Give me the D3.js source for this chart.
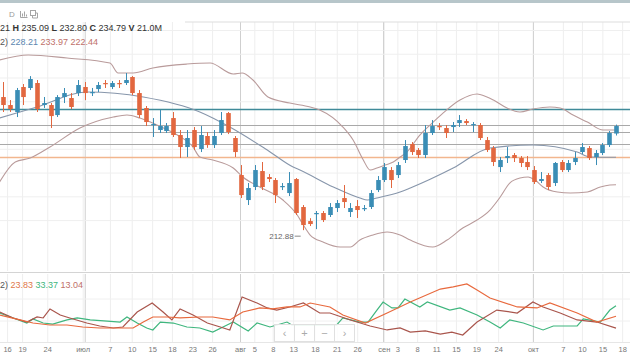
<!DOCTYPE html>
<html><head><meta charset="utf-8">
<script src="https://cdn.jsdelivr.net/npm/d3@7"></script>
<style>
body{margin:0;background:#fff}
svg{display:block;font-family:"Liberation Sans",Arial,sans-serif}
</style></head>
<body><svg id="c" width="630" height="355"></svg>
<script>
// ---------- DATA ----------
const openP  = [240.89,239.21,237.74,243.0,242.79,243.84,239.21,239.21,237.1,240.89,240.68,241.73,243.0,241.73,242.57,243.84,243.0,243.84,243.84,245.10,241.73,238.58,235.0,233.95,233.74,236.47,232.9,230.37,233.95,229.95,232.69,230.79,233.32,237.52,232.27,224.48,219.22,221.96,225.32,224.06,223.43,221.96,220.69,223.64,217.75,214.80,216.28,216.49,216.07,217.54,219.64,216.7,217.96,217.33,217.75,221.32,223.43,225.53,224.48,227.64,231.0,229.74,228.69,233.32,234.79,234.37,234.58,235.42,235.84,235.0,235.0,231.84,230.16,226.16,228.06,228.69,228.06,227.22,225.53,223.22,224.48,222.80,227.22,225.53,227.22,229.32,230.16,228.27,229.11,230.79,233.21];
const highP  = [244.05,240.26,242.8,243.63,245.3,244.47,240.9,239.63,241.3,242.79,241.73,244.47,244.05,242.8,244.05,244.47,244.26,244.47,245.94,245.3,242.36,239.0,236.47,238.16,235.42,237.74,233.95,233.95,234.58,234.79,233.5,233.95,237.74,237.74,232.69,226.58,222.8,226.58,227.22,224.69,223.85,222.8,225.11,223.85,218.17,215.4,216.91,216.91,218.59,219.22,222.38,218.59,219.22,218.17,221.32,224.27,227.01,226.16,227.22,231.84,231.42,230.16,235.0,236.05,235.42,235.0,235.63,237.10,236.26,235.63,235.42,232.48,230.58,228.27,230.37,229.11,228.48,228.48,226.37,225.11,224.9,227.22,227.64,227.64,229.32,231.21,230.58,229.74,231.21,233.74,235.09];
const lowP   = [237.74,237.74,236.68,239.21,242.36,237.74,238.6,234.37,236.7,239.63,238.37,241.1,240.26,241.1,241.94,242.79,242.57,242.79,243.42,241.31,236.47,234.79,232.48,233.32,233.32,232.48,228.06,228.27,229.74,229.32,230.2,230.16,232.9,233.1,228.27,219.64,218.17,221.32,221.32,223.01,218.59,221.32,220.06,216.07,212.88,213.75,213.1,214.59,215.65,216.7,217.54,215.65,215.44,216.9,217.33,220.9,223.01,221.75,223.85,227.01,228.69,228.06,228.06,232.9,233.95,232.27,233.53,234.58,235.0,233.53,231.84,229.32,226.37,225.11,227.01,227.22,226.16,225.53,222.59,222.8,221.32,222.17,225.11,225.11,226.58,228.9,227.64,226.58,228.69,230.37,232.80];
const closeP = [239.21,238.37,242.36,240.89,244.68,238.37,239.63,236.89,240.89,241.73,238.79,243.42,241.73,241.94,243.42,243.63,243.84,243.63,244.47,241.73,237.10,235.63,235.21,234.79,234.79,232.90,230.37,232.27,230.37,232.90,230.79,232.69,236.05,233.53,229.32,220.27,221.75,225.53,221.96,223.64,220.27,222.17,222.80,216.49,213.96,214.17,216.49,215.01,217.75,218.59,218.80,217.54,217.12,217.54,220.69,223.43,226.16,223.43,226.58,230.58,229.32,228.69,233.32,234.79,234.58,233.32,235.0,236.05,235.42,235.21,232.27,229.74,227.22,227.64,228.48,228.06,227.01,226.16,223.01,223.64,221.96,227.01,225.53,227.01,228.06,230.37,228.06,229.11,230.79,233.32,234.79];

// Bollinger bands, [candle index, price]
const bbUpper = [[-0.5,248.7],[3.7,249.73],[9.4,249.1],[15.7,248.04],[16.9,245.94],[19.1,245.94],[22.0,247.0],[27.0,247.83],[30.4,248.04],[33.8,245.73],[35.1,245.94],[36.7,244.47],[38.9,240.89],[42.1,239.63],[45.1,238.79],[46.5,238.16],[49.9,234.58],[51.4,231.84],[52.9,227.64],[53.9,225.53],[54.9,225.95],[56.1,226.58],[57.3,227.22],[58.3,228.27],[59.3,229.32],[61.2,232.9],[62.7,235.0],[64.6,237.52],[67.1,240.26],[69.6,241.52],[70.3,241.31],[72.0,240.26],[74.0,238.58],[75.9,237.74],[77.8,238.37],[80.3,238.79],[81.8,238.58],[83.7,237.1],[85.8,235.63],[88.1,233.95],[90,233.97]];
const bbMiddle = [[-0.5,236.47],[2.5,237.74],[5.0,238.79],[12.3,241.94],[20.6,240.89],[28.9,237.74],[33.3,234.58],[38.8,229.74],[42.6,226.16],[43.6,225.53],[48.5,221.96],[52.4,219.64],[53.5,219.22],[54.9,219.64],[58.3,220.9],[59.8,221.75],[66.1,225.95],[71.5,230.16],[77.8,230.79],[84.3,229.32],[86.2,228.27],[90,228.21]];
const bbLower = [[-0.5,223.01],[1.8,227.22],[4.0,228.06],[6.9,230.37],[11.3,234.37],[16.2,236.68],[18.2,237.1],[20.1,236.47],[22.6,235.0],[25.6,232.9],[27.9,230.37],[28.9,228.27],[30.8,227.64],[33.8,225.95],[35.2,224.06],[37.7,221.96],[41.1,219.22],[43.2,216.07],[44.1,213.96],[45.1,211.86],[47.0,210.38],[49.5,209.33],[51.0,209.33],[52.4,210.8],[54.3,211.86],[56.4,212.49],[58.3,211.86],[59.8,210.8],[63.1,209.33],[65.2,210.8],[67.5,213.33],[69.6,215.01],[71.5,217.12],[73.0,219.85],[74.4,222.8],[75.9,223.85],[77.1,224.06],[78.1,223.43],[79.3,221.96],[81.4,220.9],[83.3,220.69],[85.8,220.9],[87.7,221.96],[89.1,222.38],[90,222.44]];

// horizontal price levels
const levelPrices = [238.37, 235.0, 233.5, 231.0, 228.27];
const gridPrices = [215, 220, 225, 230, 235, 240, 245, 250, 255];

// DMI / ADX indicator, [candle index, value]
const adx = [[-0.5,25.0],[2.5,20.5],[4.4,17.7],[6.9,15.9],[9.4,15.9],[11.7,14.1],[14.2,13.2],[17.2,13.2],[19.1,13.2],[20.6,18.6],[22.0,23.2],[24.1,23.2],[26.0,22.3],[28.9,23.2],[30.8,23.2],[33.3,20.5],[35.2,27.7],[37.7,31.4],[39.6,30.5],[41.7,32.3],[43.6,32.3],[45.1,35.9],[48.0,32.3],[49.9,25.0],[53.2,17.7],[56.4,26.8],[59.8,36.8],[64.2,48.6],[66.1,50.5],[68.1,53.2],[69.6,47.7],[71.5,40.5],[75.5,32.3],[78.4,31.4],[80.3,35.9],[84.3,26.8],[87.2,18.6],[90,23.83]];
const plusDI = [[-0.5,26.8],[1.5,22.3],[3.5,17.7],[4.4,21.4],[5.9,17.7],[7.3,16.8],[9.4,20.5],[10.9,22.3],[12.8,20.5],[15.3,19.5],[17.2,18.6],[18.2,23.2],[19.7,17.7],[21.1,13.2],[22.0,11.4],[23.1,18.6],[25.0,17.7],[27.0,14.1],[28.9,13.2],[30.8,9.5],[32.9,15.9],[33.8,18.6],[36.0,10.5],[37.3,17.7],[39.2,14.1],[41.7,18.6],[42.4,15.9],[45.1,15.9],[49.0,15.9],[49.9,22.3],[52.4,18.6],[53.6,18.6],[54.9,29.5],[55.8,36.8],[57.1,31.4],[58.0,31.4],[59.0,39.5],[61.2,32.3],[62.3,36.8],[65.6,29.5],[67.1,31.4],[69.6,25.0],[71.5,18.6],[73.0,13.2],[74.4,20.5],[76.4,17.7],[79.3,11.4],[80.8,15.0],[84.3,15.0],[85.2,21.4],[87.7,18.6],[89.1,29.5],[90,33.37]];
const minusDI = [[-0.5,27.7],[1.5,22.3],[3.5,18.6],[5.0,23.2],[5.9,22.3],[6.9,30.5],[8.4,25.0],[9.8,22.3],[12.3,17.7],[14.2,15.0],[16.2,13.2],[17.6,14.1],[19.7,27.7],[21.9,35.9],[23.5,27.7],[24.8,20.5],[26.0,30.5],[27.9,25.0],[30.0,17.7],[31.9,14.1],[33.3,11.4],[35.1,41.4],[37.3,35.9],[38.8,31.4],[40.2,29.5],[42.1,32.3],[44.1,35.9],[46.5,26.8],[48.0,26.8],[51.0,20.5],[53.9,15.0],[56.4,11.4],[58.3,13.2],[59.8,9.5],[62.0,10.5],[64.2,7.7],[65.9,9.5],[67.5,6.8],[69.6,18.6],[72.5,29.5],[75.5,26.8],[77.8,36.8],[79.3,32.3],[81.8,26.8],[84.3,20.5],[87.2,18.6],[90,13.04]];

// x-axis ticks (candle index) and their labels
const tickIdx = [0.6,2.8,6.5,11.7,15.7,18.9,21.9,24.8,27.8,30.7,34.8,36.9,39.6,42.6,45.8,49.0,52.0,55.9,57.9,60.8,63.6,66.5,69.5,72.7,77.8,82.2,85.0,88.0,90.9];
const tickLabels = ["16","19","24","июл","7","10","15","18","23","26","авг","5","8","13","18","21","26","сен","3","8","11","15","19","24","окт","7","10","15","18"];
const monthIdx = [12.0, 34.8, 55.8, 77.8];

// header texts
const ohlcHeader = [["21 ",false],["H ",true],["235.09 ",false],["L ",true],["232.80 ",false],["C ",true],["234.79 ",false],["V ",true],["21.0M",false]];
const bbHeader = ["228.21","233.97","222.44"];
const dmiHeader = ["23.83","33.37","13.04"];
const lowLabel = "212.88";

// ---------- DRAW ----------
const svg = d3.select("#c");
const W = 630;
const x  = d3.scaleLinear().domain([0,90]).range([3,616]);
const y  = d3.scaleLinear().domain([204.5,257.1]).range([270,20]);
const yi = d3.scaleLinear().domain([0,63]).range([342.5,273.2]);

const UP = "#3a8db5", DOWN = "#e2673f";

svg.append("rect").attr("width",W).attr("height",355).attr("fill","#fff");
const defs = svg.append("defs");
defs.append("clipPath").attr("id","cm").append("rect").attr("x",0).attr("y",20).attr("width",W).attr("height",251);
defs.append("clipPath").attr("id","ci").append("rect").attr("x",0).attr("y",274).attr("width",W).attr("height",68);

// vertical grid via axis
function vgrid(top, bottom, vals, color){
  const g = svg.append("g").attr("transform",`translate(0,${bottom})`)
    .call(d3.axisBottom(x).tickValues(vals).tickSize(-(bottom-top)).tickFormat(""));
  g.select(".domain").remove();
  g.selectAll("line").attr("stroke",color).attr("stroke-width",1);
}
vgrid(22, 271, tickIdx, "#eeeeee");
vgrid(274, 342, tickIdx, "#eeeeee");
vgrid(22, 271, monthIdx, "#cfcfcf");
vgrid(274, 342, monthIdx, "#cfcfcf");

// horizontal grid main
const hg = svg.append("g")
  .call(d3.axisLeft(y).tickValues(gridPrices).tickSize(-W).tickFormat(""));
hg.select(".domain").remove();
hg.selectAll("line").attr("stroke","#efefef");

// horizontal grid indicator
const hgi = svg.append("g")
  .call(d3.axisLeft(yi).tickValues([20,40]).tickSize(-W).tickFormat(""));
hgi.select(".domain").remove();
hgi.selectAll("line").attr("stroke","#f0f0f0");

// panel separator lines
svg.append("line").attr("x1",185).attr("x2",W).attr("y1",22).attr("y2",22).attr("stroke","#dddddd");
svg.append("line").attr("x1",0).attr("x2",W).attr("y1",272.5).attr("y2",272.5).attr("stroke","#d4d4d4");
svg.append("line").attr("x1",0).attr("x2",W).attr("y1",342.5).attr("y2",342.5).attr("stroke","#e6e6e6");

const main = svg.append("g").attr("clip-path","url(#cm)");

// price levels
const levelStyle = [["#3f8a99",1.6],["#a9a9a9",1],["#a9a9a9",1],["#a9a9a9",1],["#f2b68e",1.6]];
main.selectAll("line.lvl").data(levelPrices).join("line").attr("class","lvl")
  .attr("x1",0).attr("x2",W)
  .attr("y1",d=>Math.round(y(d))+0.5).attr("y2",d=>Math.round(y(d))+0.5)
  .attr("stroke",(d,i)=>levelStyle[i][0]).attr("stroke-width",(d,i)=>levelStyle[i][1]);

// bollinger bands
const line = d3.line().x(d=>x(d[0])).y(d=>y(d[1])).curve(d3.curveMonotoneX);
main.append("path").attr("d",line(bbUpper)).attr("fill","none").attr("stroke","#b99b9b").attr("stroke-width",1.1);
main.append("path").attr("d",line(bbLower)).attr("fill","none").attr("stroke","#b99b9b").attr("stroke-width",1.1);
main.append("path").attr("d",line(bbMiddle)).attr("fill","none").attr("stroke","#8796ab").attr("stroke-width",1.1);

// candles
const idx = d3.range(openP.length);
const bw = 4.6;
const cg = main.selectAll("g.c").data(idx).join("g").attr("class","c");
cg.append("line")
  .attr("x1",i=>Math.round(x(i))+0.5).attr("x2",i=>Math.round(x(i))+0.5)
  .attr("y1",i=>y(highP[i])).attr("y2",i=>y(lowP[i]))
  .attr("stroke",i=>closeP[i]>=openP[i]?UP:DOWN).attr("stroke-width",1);
cg.append("rect")
  .attr("x",i=>Math.round(x(i))+0.5-bw/2).attr("width",bw)
  .attr("y",i=>y(Math.max(openP[i],closeP[i])))
  .attr("height",i=>Math.max(1.2, Math.abs(y(openP[i])-y(closeP[i]))))
  .attr("fill",i=>closeP[i]>=openP[i]?UP:DOWN);

// low label
const lowI = d3.minIndex(lowP);
svg.append("text").attr("x",x(lowI)-9).attr("y",y(lowP[lowI])+9).attr("text-anchor","end")
  .attr("font-size",8).attr("fill","#666").text(lowLabel);
svg.append("line").attr("x1",x(lowI)-8).attr("x2",x(lowI)-2).attr("y1",y(lowP[lowI])+6).attr("y2",y(lowP[lowI])+6)
  .attr("stroke","#888").attr("stroke-width",1);

// indicator
const ind = svg.append("g").attr("clip-path","url(#ci)");
const iline = d3.line().x(d=>x(d[0])).y(d=>yi(d[1]));
ind.append("path").attr("d",iline(plusDI)).attr("fill","none").attr("stroke","#3fb67e").attr("stroke-width",1.2);
ind.append("path").attr("d",iline(minusDI)).attr("fill","none").attr("stroke","#a9554c").attr("stroke-width",1.2);
ind.append("path").attr("d",iline(adx)).attr("fill","none").attr("stroke","#e8693d").attr("stroke-width",1.2);

// zoom control box
const zc = svg.append("g");
const btns = ["‹","+","−","›"];
zc.append("rect").attr("x",274.5).attr("y",324.5).attr("width",80).attr("height",17).attr("fill","#fff").attr("fill-opacity",0.85).attr("stroke","#e0e0e0");
btns.forEach((b,k)=>{
  if(k>0) zc.append("line").attr("x1",274.5+k*20).attr("x2",274.5+k*20).attr("y1",324.5).attr("y2",341.5).attr("stroke","#e0e0e0");
  zc.append("text").attr("x",284.5+k*20).attr("y",337).attr("text-anchor","middle").attr("font-size",11).attr("fill","#aaa").text(b);
});

// x axis labels
const ax = svg.append("g").attr("transform","translate(0,344)")
  .call(d3.axisBottom(x).tickValues(tickIdx).tickSize(0).tickPadding(3).tickFormat((d,i)=>tickLabels[i]));
ax.select(".domain").remove();
ax.selectAll("text").attr("font-size",7.5).attr("fill","#777").attr("font-family","Liberation Sans, Arial, sans-serif");

// header
svg.append("rect").attr("x",0).attr("y",0).attr("width",W).attr("height",3).attr("fill","#b7c6ca");
svg.append("text").attr("x",9).attr("y",17).attr("font-size",8).attr("fill","#999").text("D");
// small chart-type icons
const ic = svg.append("g").attr("fill","none").attr("stroke","#a5a5a5").attr("stroke-width",1);
ic.append("path").attr("d","M20.5,11v6.5h7 M22.5,16.5v-3 M24.5,16.5v-5 M26.5,16.5v-2");
ic.append("rect").attr("x",30.5).attr("y",10.5).attr("width",5).attr("height",5);
ic.append("path").attr("d","M32.5,15.5v2.5h5v-5h-2");
const t1 = svg.append("text").attr("x",0).attr("y",31).attr("font-size",9).attr("fill","#333");
ohlcHeader.forEach(([s,b])=>t1.append("tspan").attr("font-weight",b?"bold":"normal").text(s));
const t2 = svg.append("text").attr("x",0).attr("y",45).attr("font-size",9);
t2.append("tspan").attr("fill","#555").text("2) ");
t2.append("tspan").attr("fill","#5b86b0").text(bbHeader[0]+"  ");
t2.append("tspan").attr("fill","#c0706a").text(bbHeader[1]+"  ");
t2.append("tspan").attr("fill","#c0706a").text(bbHeader[2]);
const t3 = svg.append("text").attr("x",0).attr("y",288).attr("font-size",9);
t3.append("tspan").attr("fill","#555").text("2) ");
t3.append("tspan").attr("fill","#e0774a").text(dmiHeader[0]+"  ");
t3.append("tspan").attr("fill","#3fb67e").text(dmiHeader[1]+"  ");
t3.append("tspan").attr("fill","#c0706a").text(dmiHeader[2]);
</script></body></html>
